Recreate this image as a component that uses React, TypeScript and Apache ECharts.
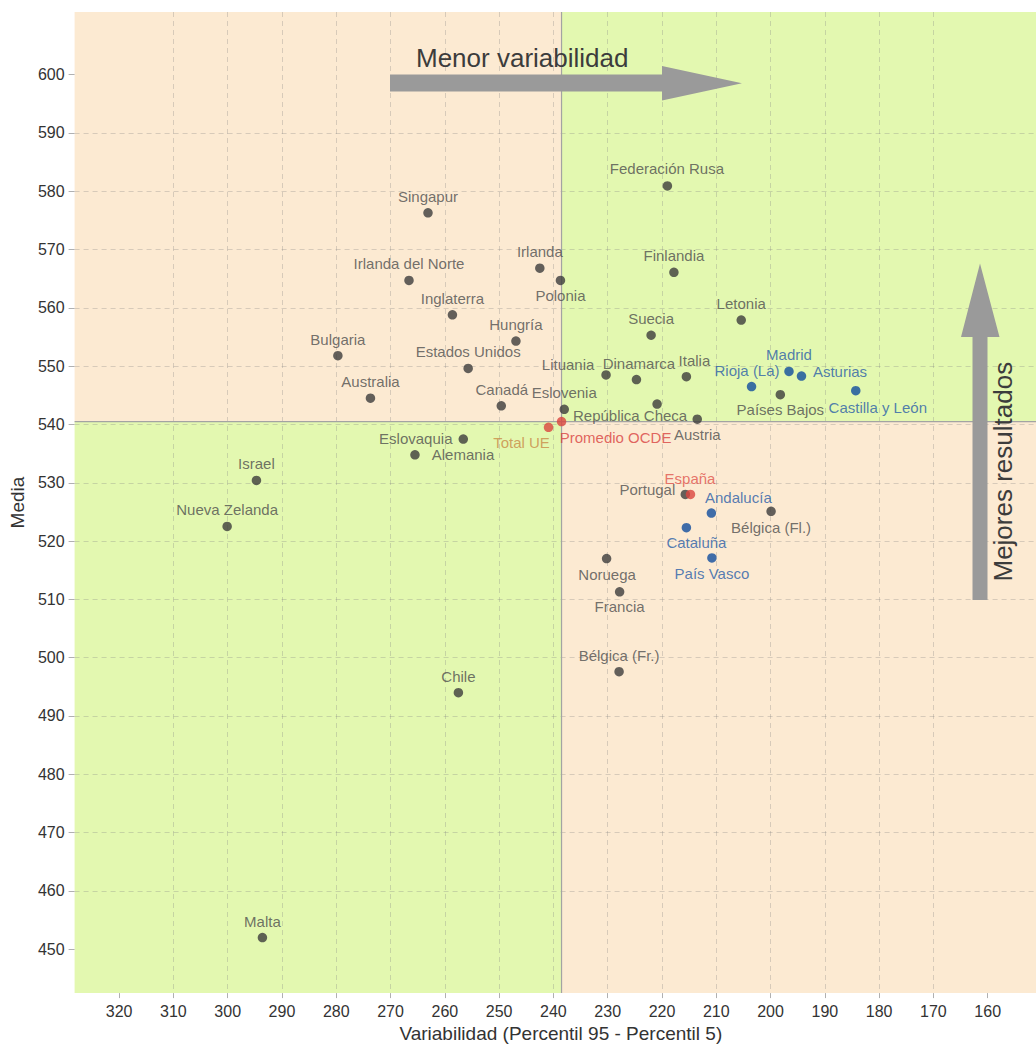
import React, { useEffect, useRef } from "react";
import * as echarts from "echarts";

// ---------- data ----------
const COUNTRY_NAMES = [
  "Singapur", "Irlanda del Norte", "Inglaterra", "Hungría", "Federación Rusa", "Irlanda",
  "Polonia", "Finlandia", "Letonia", "Suecia", "Bulgaria", "Estados Unidos", "Australia",
  "Canadá", "Eslovenia", "Lituania", "Dinamarca", "Italia", "República Checa", "Austria",
  "Eslovaquia", "Alemania", "Portugal", "Noruega", "Francia", "Bélgica (Fl.)", "Países Bajos",
  "Israel", "Nueva Zelanda", "Chile", "Bélgica (Fr.)", "Malta",
];
const COUNTRY_X = [
  263.1, 266.6, 258.6, 246.9, 219.0, 242.5,
  238.7, 217.8, 205.4, 222.0, 279.7, 255.7, 273.7,
  249.6, 238.0, 230.3, 224.7, 215.5, 220.9, 213.5,
  256.6, 265.5, 215.7, 230.2, 227.8, 199.9, 198.2,
  294.7, 300.1, 257.5, 227.9, 293.6,
];
const COUNTRY_Y = [
  576.3, 564.7, 558.8, 554.3, 580.9, 566.8,
  564.7, 566.1, 557.9, 555.3, 551.8, 549.6, 544.5,
  543.2, 542.6, 548.5, 547.7, 548.2, 543.5, 540.9,
  537.5, 534.8, 528.0, 517.0, 511.3, 525.1, 545.1,
  530.4, 522.5, 494.0, 497.6, 452.0,
];

const REGION_NAMES = ["Rioja (La)", "Madrid", "Asturias", "Castilla y León", "Andalucía", "Cataluña", "País Vasco"];
const REGION_X = [203.5, 196.6, 194.3, 184.3, 210.9, 215.5, 210.8];
const REGION_Y = [546.5, 549.1, 548.3, 545.8, 524.8, 522.3, 517.1];

const REF_NAMES = ["Total UE", "Promedio OCDE", "España"];
const REF_X = [240.9, 238.5, 214.75];
const REF_Y = [539.5, 540.5, 528.0];

const X_TICKS = [160, 170, 180, 190, 200, 210, 220, 230, 240, 250, 260, 270, 280, 290, 300, 310, 320];
const Y_TICKS = [450, 460, 470, 480, 490, 500, 510, 520, 530, 540, 550, 560, 570, 580, 590, 600];

const X_MIN = 151.1;
const X_MAX = 328.2;
const Y_MIN = 442.47;
const Y_MAX = 610.74;

// ---------- styles / placement ----------
const FONT = "'Liberation Sans', Arial, sans-serif";
const PEACH = "#FCEAD2";
const GREEN = "#E3F8B0";
const ARROW = "#9a9a9a";
const DEFAULT_OFFSET: [number, number] = [0, -16.5];
const LABEL_OFFSET: Record<string, [number, number]> = {
  "Federación Rusa": [-0.5, -17],
  "Canadá": [0.5, -16.5],
  "Lituania": [-38, -10.5],
  "Dinamarca": [2.5, -16],
  "Italia": [8, -16],
  "República Checa": [-27, 11],
  "Austria": [0, 15.5],
  "Total UE": [-27, 15],
  "Promedio OCDE": [54, 16],
  "Eslovaquia": [-47.5, -1],
  "Alemania": [48, 0],
  "España": [-0.5, -16],
  "Portugal": [-38, -4.5],
  "Andalucía": [27, -16],
  "Cataluña": [10, 15],
  "País Vasco": [0, 15.5],
  "Noruega": [0.5, 15.8],
  "Francia": [0, 14.5],
  "Polonia": [0, 14.8],
  "Rioja (La)": [-4.5, -16],
  "Asturias": [38.5, -4.5],
  "Países Bajos": [0, 15],
  "Castilla y León": [22, 16.5],
  "Bélgica (Fl.)": [0, 16],
};
const REF_LABEL_COLOR: Record<string, string> = {
  "Total UE": "#c98a46",
  "Promedio OCDE": "#d9413e",
  "España": "#e0544c",
};

function makeItems(names: string[], xs: number[], ys: number[], colors?: Record<string, string>) {
  return names.map((n, i) => ({
    name: n,
    value: [xs[i], ys[i]],
    label: {
      offset: LABEL_OFFSET[n] ?? DEFAULT_OFFSET,
      ...(colors && colors[n] ? { color: colors[n] } : {}),
    },
  }));
}

const labelBase = {
  show: true,
  position: "inside",
  formatter: "{b}",
  fontSize: 15,
  fontFamily: FONT,
};

export default function App() {
  const ref = useRef<HTMLDivElement>(null);

  useEffect(() => {
    if (!ref.current) return;
    const chart = echarts.init(ref.current, undefined, { renderer: "svg" });
    const OCDE_X = REF_X[1];
    const OCDE_Y = REF_Y[1];

    const option: any = {
      animation: false,
      backgroundColor: "#ffffff",
      textStyle: { fontFamily: FONT },
      grid: { left: 73, right: 0, top: 12, bottom: 53, containLabel: false },
      xAxis: {
        type: "value",
        inverse: true,
        min: X_MIN,
        max: X_MAX,
        splitNumber: 17,
        name: "Variabilidad (Percentil 95 - Percentil 5)",
        nameLocation: "middle",
        nameGap: 25,
        nameTextStyle: { fontSize: 19, color: "#333333", fontFamily: FONT, padding: [0, 0, 0, 11] },
        axisLine: { show: false },
        axisTick: { show: true, length: 5, lineStyle: { color: "#b0b0b0" }, customValues: X_TICKS },
        axisLabel: {
          fontSize: 16, color: "#333333", margin: 10, fontFamily: FONT,
          customValues: X_TICKS,
        },
        splitLine: {
          show: true, showMinLine: false, showMaxLine: false,
          lineStyle: { color: "rgba(130,130,130,0.3)", type: [5, 4], width: 1 },
        },
      },
      yAxis: {
        type: "value",
        min: Y_MIN,
        max: Y_MAX,
        splitNumber: 17,
        name: "Media",
        nameLocation: "middle",
        nameGap: 47,
        nameTextStyle: { fontSize: 19, color: "#333333", fontFamily: FONT },
        axisLine: { show: false },
        axisTick: { show: true, length: 6, lineStyle: { color: "#b0b0b0" }, customValues: Y_TICKS },
        axisLabel: {
          fontSize: 16, color: "#333333", margin: 10, fontFamily: FONT,
          customValues: Y_TICKS,
        },
        splitLine: {
          show: true, showMinLine: false, showMaxLine: false,
          lineStyle: { color: "rgba(130,130,130,0.3)", type: [5, 4], width: 1 },
        },
      },
      graphic: [
        {
          type: "polygon",
          z: 10,
          silent: true,
          shape: {
            points: [[390, 74.5], [662, 74.5], [662, 66], [742, 83.3], [662, 100.5], [662, 91.5], [390, 91.5]],
          },
          style: { fill: ARROW },
        },
        {
          type: "text",
          z: 11,
          silent: true,
          x: 416,
          y: 57.5,
          style: {
            text: "Menor variabilidad",
            fontSize: 26,
            fontFamily: FONT,
            fill: "#3c3c3c",
            textAlign: "left",
            textVerticalAlign: "middle",
            verticalAlign: "middle",
          },
        },
        {
          type: "polygon",
          z: 10,
          silent: true,
          shape: {
            points: [[972.5, 600], [972.5, 337], [961, 337], [980, 263.5], [999.5, 337], [987.5, 337], [987.5, 600]],
          },
          style: { fill: ARROW },
        },
        {
          type: "text",
          z: 11,
          silent: true,
          x: 1003,
          y: 471.7,
          rotation: Math.PI / 2,
          style: {
            text: "Mejores resultados",
            fontSize: 26,
            fontFamily: FONT,
            fill: "#3c3c3c",
            textAlign: "center",
            textVerticalAlign: "middle",
            verticalAlign: "middle",
          },
        },
      ],
      series: [
        {
          type: "custom",
          z: -1,
          silent: true,
          encode: { x: 0, y: 1 },
          data: [[OCDE_X, OCDE_Y]],
          renderItem: (params: any, api: any) => {
            const cs = params.coordSys;
            const p = api.coord([api.value(0), api.value(1)]);
            const l = cs.x, t = cs.y, r = cs.x + cs.width, b = cs.y + cs.height;
            return {
              type: "group",
              children: [
                { type: "rect", shape: { x: l, y: t, width: p[0] - l, height: p[1] - t }, style: { fill: PEACH } },
                { type: "rect", shape: { x: p[0], y: t, width: r - p[0], height: p[1] - t }, style: { fill: GREEN } },
                { type: "rect", shape: { x: l, y: p[1], width: p[0] - l, height: b - p[1] }, style: { fill: GREEN } },
                { type: "rect", shape: { x: p[0], y: p[1], width: r - p[0], height: b - p[1] }, style: { fill: PEACH } },
              ],
            };
          },
        },
        {
          type: "custom",
          z: 1,
          silent: true,
          encode: { x: 0, y: 1 },
          data: [[OCDE_X, OCDE_Y]],
          renderItem: (params: any, api: any) => {
            const cs = params.coordSys;
            const p = api.coord([api.value(0), api.value(1)]);
            const l = cs.x, t = cs.y, r = cs.x + cs.width, b = cs.y + cs.height;
            return {
              type: "group",
              children: [
                { type: "line", shape: { x1: p[0], y1: t, x2: p[0], y2: b }, style: { stroke: "#a3a3a3", lineWidth: 1.2 } },
                { type: "line", shape: { x1: l, y1: p[1], x2: r, y2: p[1] }, style: { stroke: "#a3a3a3", lineWidth: 1.2 } },
              ],
            };
          },
        },
        {
          type: "scatter",
          name: "Países",
          symbolSize: 9.5,
          itemStyle: { color: "#3c3c3c" },
          label: { ...labelBase, color: "#4e4e4e" },
          emphasis: { disabled: true },
          data: makeItems(COUNTRY_NAMES, COUNTRY_X, COUNTRY_Y),
        },
        {
          type: "scatter",
          name: "CCAA",
          symbolSize: 9.5,
          itemStyle: { color: "#0f4c9e" },
          label: { ...labelBase, color: "#2a5ea8" },
          emphasis: { disabled: true },
          data: makeItems(REGION_NAMES, REGION_X, REGION_Y),
        },
        {
          type: "scatter",
          name: "Referencias",
          symbolSize: 9.5,
          z: 3,
          itemStyle: { color: "#d9453f" },
          label: { ...labelBase, color: "#d9413e" },
          emphasis: { disabled: true },
          data: makeItems(REF_NAMES, REF_X, REF_Y, REF_LABEL_COLOR),
        },
      ],
    };

    chart.setOption(option);
    return () => {
      chart.dispose();
    };
  }, []);

  return (
    <div
      ref={ref}
      style={{ position: "absolute", left: 0, top: 0, width: "1036px", height: "1048px" }}
    />
  );
}
